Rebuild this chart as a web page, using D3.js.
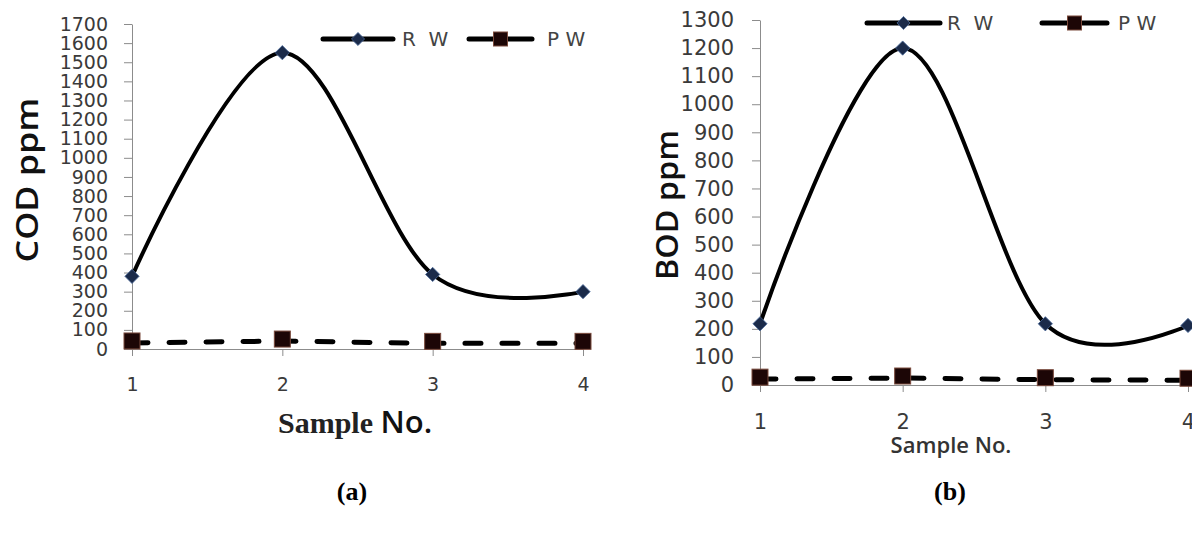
<html>
<script src="https://cdn.jsdelivr.net/npm/d3@7"></script>
<head>
    <style>
        body {
            margin: 0;
            background: white;
        }
        svg {
            display: block;
        }
        .tick text {
            font-family: "DejaVu Sans", sans-serif;
            fill: #3a3a3a;
        }
    </style>
</head>
<body>
    <svg id="chart"></svg>
</body>
<script>
    // data
    let samples = [1, 2, 3, 4];
    let seriesNames = ["R  W", "P W"];

    let codRW = [380, 1550, 390, 300];
    let codPW = [42, 52, 40, 40];
    let codTicks = [0, 100, 200, 300, 400, 500, 600, 700, 800, 900, 1000,
        1100, 1200, 1300, 1400, 1500, 1600, 1700];

    let bodRW = [218, 1200, 218, 212];
    let bodPW = [28, 32, 26, 24];
    let bodTicks = [0, 100, 200, 300, 400, 500, 600, 700, 800, 900, 1000,
        1100, 1200, 1300];

    let svg = d3.select("#chart")
        .attr("width", 1192)
        .attr("height", 535);

    // panel configs
    function getCodConfig() {
        return {
            left: 132, right: 583, top: 24, bottom: 349,
            max: 1700, ticks: codTicks, rw: codRW, pw: codPW,
            tickFont: 19, tickPad: 16,
            yLabel: "COD ppm", yLabelX: 27, yLabelY: 180, yLabelLen: 165,
            legendY: 39, legendRW: [323, 393, 402], legendPW: [469, 532, 547],
            caption: "(a)", captionX: 352
        };
    }

    function getBodConfig() {
        return {
            left: 760, right: 1188, top: 20, bottom: 385,
            max: 1300, ticks: bodTicks, rw: bodRW, pw: bodPW,
            tickFont: 21, tickPad: 18,
            yLabel: "BOD ppm", yLabelX: 667, yLabelY: 205, yLabelLen: 150,
            legendY: 23, legendRW: [867, 940, 947], legendPW: [1042, 1107, 1118],
            caption: "(b)", captionX: 950
        };
    }

    function getScales(config) {
        let xScale = d3.scalePoint()
            .domain(samples)
            .range([config.left, config.right]);
        let yScale = d3.scaleLinear()
            .domain([0, config.max])
            .range([config.bottom, config.top]);
        return { xScale, yScale };
    }

    function drawAxes(config, scales) {
        let { xScale, yScale } = scales;

        let axisY = d3.axisLeft(yScale)
            .tickValues(config.ticks)
            .tickFormat(d3.format("d"))
            .tickSize(8)
            .tickSizeOuter(0)
            .tickPadding(config.tickPad);
        let gy = svg.append("g")
            .attr("transform", `translate(${config.left},0)`)
            .call(axisY);
        gy.selectAll("text").style("font-size", config.tickFont + "px");

        let axisX = d3.axisBottom(xScale)
            .tickSize(7)
            .tickSizeOuter(0)
            .tickPadding(22);
        let gx = svg.append("g")
            .attr("transform", `translate(0,${config.bottom})`)
            .call(axisX);
        gx.selectAll("text").style("font-size", config.tickFont + "px");

        svg.selectAll(".domain, .tick line").attr("stroke", "#8c8c8c");
    }

    function diamond(g, x, y, size) {
        g.append("path")
            .attr("d", d3.symbol(d3.symbolDiamond2, size || 130)())
            .attr("transform", `translate(${x},${y})`)
            .attr("fill", "#1b2b4a")
            .attr("stroke", "#4a6a9a")
            .attr("stroke-width", 0.8);
    }

    function square(g, x, y) {
        g.append("rect")
            .attr("x", x - 8).attr("y", y - 8)
            .attr("width", 16).attr("height", 16)
            .attr("fill", "#1c0606")
            .attr("stroke", "#7a4a3c")
            .attr("stroke-width", 1);
    }

    function drawLines(config, scales) {
        let { xScale, yScale } = scales;
        let g = svg.append("g");

        let rwLine = d3.line()
            .x((d, i) => xScale(samples[i]))
            .y(d => yScale(d))
            .curve(d3.curveCardinal.tension(0));

        let pwLine = d3.line()
            .x((d, i) => xScale(samples[i]))
            .y(d => yScale(d) + 2);

        g.append("path")
            .attr("d", pwLine(config.pw))
            .attr("fill", "none")
            .attr("stroke", "black")
            .attr("stroke-width", 5)
            .attr("stroke-linecap", "round")
            .attr("stroke-dasharray", "16,21");

        g.append("path")
            .attr("d", rwLine(config.rw))
            .attr("fill", "none")
            .attr("stroke", "black")
            .attr("stroke-width", 4);

        config.rw.forEach((v, i) => diamond(g, xScale(samples[i]), yScale(v)));
        config.pw.forEach((v, i) => square(g, xScale(samples[i]), yScale(v)));
    }

    function drawLegend(config) {
        let g = svg.append("g");
        let y = config.legendY;
        let [a1, a2, at] = config.legendRW;
        let [b1, b2, bt] = config.legendPW;

        g.append("line")
            .attr("x1", a1).attr("x2", a2).attr("y1", y).attr("y2", y)
            .attr("stroke", "black").attr("stroke-width", 5)
            .attr("stroke-linecap", "round");
        diamond(g, (a1 + a2) / 2, y, 110);

        g.append("line")
            .attr("x1", b1).attr("x2", b2).attr("y1", y).attr("y2", y)
            .attr("stroke", "black").attr("stroke-width", 5)
            .attr("stroke-linecap", "round");
        g.append("rect")
            .attr("x", (b1 + b2) / 2 - 7).attr("y", y - 7)
            .attr("width", 14).attr("height", 14)
            .attr("fill", "#1c0606").attr("stroke", "#7a4a3c");

        [[at, seriesNames[0]], [bt, seriesNames[1]]].forEach(([x, t]) => {
            g.append("text")
                .attr("x", x).attr("y", y + 7)
                .attr("font-family", "DejaVu Sans, sans-serif")
                .attr("font-size", 20)
                .attr("fill", "#444")
                .style("white-space", "pre")
                .text(t);
        });
    }

    function drawLabels(config) {
        svg.append("text")
            .attr("transform", `translate(${config.yLabelX},${config.yLabelY}) rotate(-90)`)
            .attr("text-anchor", "middle")
            .attr("dy", "0.35em")
            .attr("font-family", "Open Sans, sans-serif")
            .attr("font-weight", 600)
            .attr("font-size", 30)
            .attr("textLength", config.yLabelLen)
            .attr("lengthAdjust", "spacingAndGlyphs")
            .attr("fill", "#111")
            .text(config.yLabel);

        svg.append("text")
            .attr("x", config.captionX).attr("y", 500)
            .attr("text-anchor", "middle")
            .attr("font-family", "Liberation Serif, serif")
            .attr("font-weight", "bold")
            .attr("font-size", 26)
            .attr("fill", "black")
            .text(config.caption);
    }

    function drawPanel(config) {
        let scales = getScales(config);
        drawAxes(config, scales);
        drawLines(config, scales);
        drawLegend(config);
        drawLabels(config);
    }

    drawPanel(getCodConfig());
    drawPanel(getBodConfig());

    // x axis titles
    let t1 = svg.append("text")
        .attr("x", 278).attr("y", 433)
        .attr("fill", "#222");
    t1.append("tspan")
        .attr("font-family", "Liberation Serif, serif")
        .attr("font-weight", "bold")
        .attr("font-size", 30)
        .text("Sample ");
    t1.append("tspan")
        .attr("font-family", "Open Sans, sans-serif")
        .attr("font-weight", 600)
        .attr("font-size", 31)
        .attr("fill", "#111")
        .text("No.");

    svg.append("text")
        .attr("x", 951).attr("y", 453)
        .attr("text-anchor", "middle")
        .attr("font-family", "Open Sans, sans-serif")
        .attr("font-weight", 600)
        .attr("font-size", 22)
        .attr("fill", "#333")
        .text("Sample No.");
</script>
</html>
